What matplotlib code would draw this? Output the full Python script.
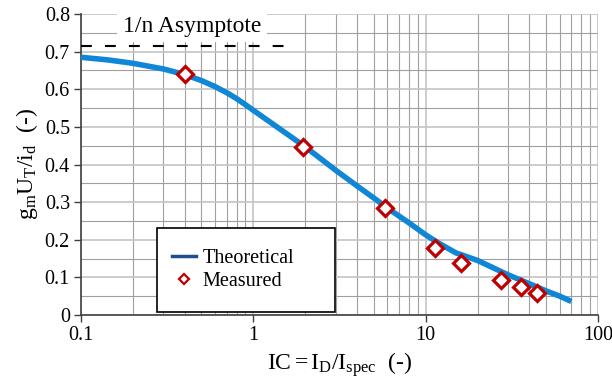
#Recreate the gm*UT/Id vs inversion coefficient chart

import numpy as np
import matplotlib.pyplot as plt
from matplotlib.lines import Line2D
from matplotlib.patches import Rectangle

# theoretical curve
ic_theory = [0.1, 0.143, 0.2, 0.3, 0.4, 0.5, 0.6, 0.7, 0.8, 0.9, 1.0, 1.4, 2,
             3, 4, 5, 6, 8, 10, 12, 15, 20, 30, 40, 50, 60, 70]
gm_theory = [0.685, 0.678, 0.669, 0.654, 0.639, 0.623, 0.607, 0.591, 0.575,
             0.559, 0.544, 0.497, 0.447, 0.385, 0.343, 0.311, 0.284, 0.245,
             0.213, 0.190, 0.165, 0.145, 0.107, 0.083, 0.064, 0.050, 0.036]

# measured points
ic_meas = [0.40, 1.95, 5.8, 11.4, 16.0, 27.3, 35.7, 44.2]
gm_meas = [0.640, 0.447, 0.284, 0.178, 0.139, 0.093, 0.075, 0.059]

# 1/n asymptote
asym_x = [0.1, 1.58]
asym_y = [0.715, 0.715]

yticks = [0, 0.1, 0.2, 0.3, 0.4, 0.5, 0.6, 0.7, 0.8]
ytick_labels = ['0', '0.1', '0.2', '0.3', '0.4', '0.5', '0.6', '0.7', '0.8']
xticks = [0.1, 1, 10, 100]
xtick_labels = ['0.1', '1', '10', '100']

plt.rcParams['font.family'] = ['Liberation Serif', 'DejaVu Serif']
plt.rcParams['mathtext.fontset'] = 'custom'
plt.rcParams['mathtext.rm'] = 'Liberation Serif'
plt.rcParams['mathtext.it'] = 'Liberation Serif:italic'

fig = plt.figure(figsize=(6.12, 3.88), dpi=100)
ax = fig.add_axes([81/612, 1 - 315/388, 517/612, 301/388])

ax.set_xscale('log')
ax.set_xlim(0.1, 100)
ax.set_ylim(0, 0.8)

#curve and points
ax.plot(ic_theory, gm_theory, color='#0F86D6', lw=4, zorder=3,
        solid_capstyle='butt', solid_joinstyle='round')
ax.plot(ic_meas, gm_meas, ls='none', marker='D', ms=8.2, mfc='white',
        mec='#C00000', mew=2.3, zorder=4)
ax.plot(asym_x, asym_y, color='black', lw=1.5, dashes=(5.2, 6.3), zorder=3)

ax.text(0.44, 0.768, '1/n Asymptote', ha='center', va='center', fontsize=17,
        bbox=dict(facecolor='white', edgecolor='none', pad=4), zorder=5)

#ticks
ax.set_yticks(yticks)
ax.set_yticklabels(ytick_labels)
ax.set_yticks(np.arange(0, 0.81, 0.05), minor=True)
ax.set_xticks(xticks)
ax.set_xticklabels(xtick_labels)
ax.xaxis.set_minor_locator(plt.matplotlib.ticker.LogLocator(base=10, subs=np.arange(2, 10)))
ax.xaxis.set_minor_formatter(plt.NullFormatter())
ax.tick_params(which='major', labelsize=14.5, length=5, width=1, color='#404040', pad=3)
ax.tick_params(which='minor', length=0)

#grid
ax.set_axisbelow(True)
ax.grid(which='major', color='#c4c4c4', lw=1.2)
ax.grid(which='minor', color='#a0a0a0', lw=0.8)

for side in ['top', 'right']:
    ax.spines[side].set_visible(False)
for side in ['left', 'bottom']:
    ax.spines[side].set_color('#404040')
    ax.spines[side].set_linewidth(1.2)

ax.set_xlabel(r'$\mathrm{IC=I_D/I_{spec}}$  (-)', fontsize=17, va='center')
ax.xaxis.set_label_coords(0.5, -(365 - 315) / 301)
ax.set_ylabel(r'$\mathrm{g_m U_T/i_d}$  (-)', fontsize=17, va='center')
ax.yaxis.set_label_coords(-(81 - 27) / 517, 0.5)

#legend box
ax.add_patch(Rectangle((0.147, 0.01), 0.344, 0.279, transform=ax.transAxes,
                       facecolor='white', edgecolor='black', lw=1.2, zorder=4))
handles = [Line2D([], [], color='#1F4E8C', lw=2.5),
           Line2D([], [], ls='none', marker='D', ms=5.5, mfc='white',
                  mec='#C00000', mew=1.6)]
ax.legend(handles, ['Theoretical', 'Measured'], loc='center left',
          bbox_to_anchor=(0.176, 0.1495), frameon=False, fontsize=14.5,
          borderpad=0, borderaxespad=0, handlelength=1.2, handletextpad=0.3,
          labelspacing=0.2)

plt.savefig('out.png', dpi=100)
